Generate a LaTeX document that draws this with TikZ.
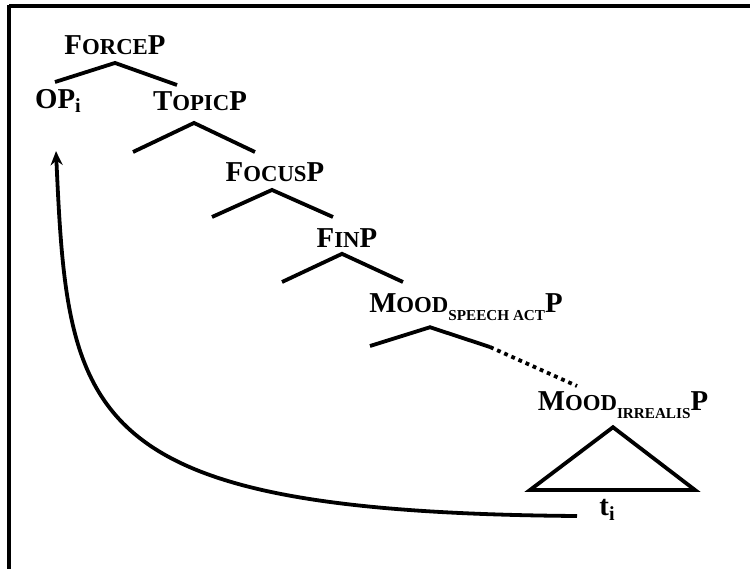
\documentclass[tikz,border=0pt]{standalone}
\usepackage{fontspec}
\setmainfont{Liberation Serif}
\usetikzlibrary{arrows.meta}

\newcommand{\scap}[1]{{\fontsize{11.4}{12}\selectfont #1}}
\newcommand{\lowsub}[1]{\raisebox{-0.3em}{\fontsize{7.6}{8}\selectfont #1}}
\newcommand{\idx}[1]{\raisebox{-2.2pt}{\fontsize{10}{11}\selectfont #1}}

\tikzset{
  cat/.style={font=\fontsize{14.4}{16}\selectfont\bfseries, inner sep=1pt},
  branch/.style={line width=1.9pt},
}

\begin{document}
\begin{tikzpicture}[x=0.5pt,y=-0.5pt]
      \useasboundingbox (0,0) rectangle (750,569);
      \draw [line width=2pt] (9,5.5) -- (750,5.5);
      \draw [line width=2pt] (9,4.5) -- (9,569);
      % labels
      \node [cat] (force) at (115,45) {F\scap{ORCE}P};
      \node [cat] (op) at (58,101) {OP\idx{i}};
      \node [cat] (topic) at (200,101) {T\scap{OPIC}P};
      \node [cat] (focus) at (275,172) {F\scap{OCUS}P};
      \node [cat] (fin) at (347,238) {F\scap{IN}P};
      \node [cat] (moodsa) at (466,307) {M\scap{OOD}\lowsub{SPEECH ACT}P};
      \node [cat] (moodirr) at (623,405) {M\scap{OOD}\lowsub{IRREALIS}P};
      \node [cat] (trace) at (607,510) {t\idx{i}};
      % branch ends
      \coordinate (forceL) at (55,82);
      \coordinate (forceR) at (177,85);
      \coordinate (topicL) at (133,152);
      \coordinate (topicR) at (255,152);
      \coordinate (focusL) at (212,217);
      \coordinate (focusR) at (333,217);
      \coordinate (finL) at (282,282);
      \coordinate (finR) at (403,282);
      \coordinate (moodL) at (370,346);
      \coordinate (moodR) at (490,347);
      \coordinate (moodD) at (577,386);
      \coordinate (triL) at (530,490);
      \coordinate (triR) at (695,490);
      \coordinate (gap) at (577,516);
      \draw [branch] (forceL) -- ([yshift=-3pt]force.south) -- (forceR);
      \draw [branch] (topicL) -- ([xshift=-3pt,yshift=-5pt]topic.south) -- (topicR);
      \draw [branch] (focusL) -- ([xshift=-1.5pt,yshift=-3pt]focus.south) -- (focusR);
      \draw [branch] (finL) -- ([xshift=-2.5pt,yshift=-2pt]fin.south) -- (finR);
      \draw [branch] (moodL) -- ([xshift=-18pt,yshift=-2pt]moodsa.south) -- (moodR);
      \draw [branch, dotted] (moodR) -- (moodD);
      \draw [branch, line join=miter] ([xshift=-5pt,yshift=-3pt]moodirr.south) -- (triL) -- (triR) -- cycle;
      % movement
      \draw [branch, -{Stealth[length=7pt,width=6pt]}] (gap) .. controls (80,512) and (68,420) .. ([xshift=-1pt,yshift=-18pt]op.south);
\end{tikzpicture}
\end{document}
